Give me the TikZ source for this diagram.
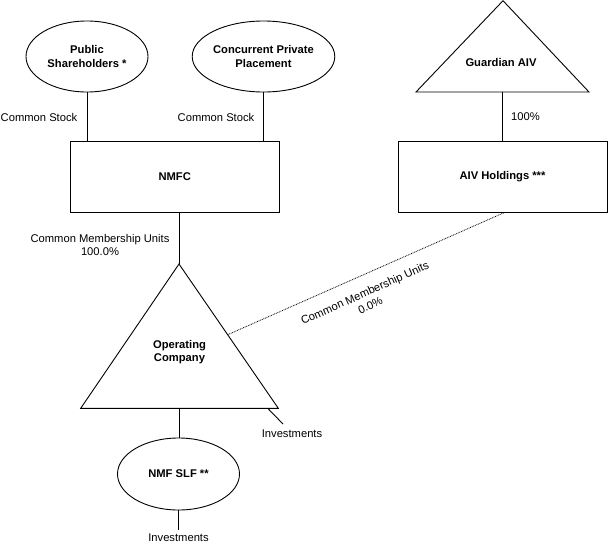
\documentclass[tikz,border=0pt]{standalone}
\usepackage{fontspec}
\setmainfont{Liberation Sans}
\usetikzlibrary{shapes.geometric,calc}
\begin{document}
\begin{tikzpicture}[x=1pt,y=-1pt,
  every node/.style={font=\fontsize{11.2}{13.5}\selectfont, align=center, inner sep=0pt},
  boldtext/.style={font=\fontsize{11.2}{13.5}\selectfont\bfseries},
  ent/.style={draw, line width=0.9pt, boldtext},
  oval/.style={ent, ellipse, minimum width=122pt, minimum height=71pt},
  boxnode/.style={ent, rectangle, minimum width=208.5pt, minimum height=71pt},
  link/.style={draw, line width=0.9pt},
  dotlink/.style={draw, line width=0.8pt, dash pattern=on 0.8pt off 0.9pt}]
\useasboundingbox (0,0) rectangle (608,544);

% entities
\node[oval] (pub) at (87,56.5) {Public\\Shareholders *};
\node[oval, minimum width=123pt] (conc) at (263.5,56.5) {Concurrent Private\\Placement};
\node[boxnode] (nmfc) at (174.75,176.5) {NMFC};

\coordinate (gA) at (503,0.7);
\coordinate (gL) at (416,92);
\coordinate (gR) at (589,92);
\draw[link, line join=miter] (gA) -- (gL) -- (gR) -- cycle;
\node[boldtext] (guard) at (501,62) {Guardian AIV};
\coordinate (gB) at ($(gL)!0.5!(gR)$);

\node[boxnode, minimum width=209pt] (aiv) at (502.5,176.5) {AIV Holdings ***};

\coordinate (oA) at (179,264);
\coordinate (oL) at (80.7,408.3);
\coordinate (oR) at (278.3,408.3);
\draw[link, line join=miter] (oA) -- (oL) -- (oR) -- cycle;
\node[boldtext] (opc) at (179.5,352) {Operating\\Company};

\node[oval, minimum height=72pt] (slf) at (178.5,474) {NMF SLF **};

% connectors
\draw[link] (pub.south) -- (pub.south |- nmfc.north);
\draw[link] (conc.south) -- (conc.south |- nmfc.north);
\draw[link] (oA |- nmfc.south) -- (oA);
\draw[link] (gB) -- (gB |- aiv.north);
\draw[link] (oA |- oL) -- (oA |- slf.north);
\coordinate (slfend) at (178.5,529.5);
\draw[link] (slf.south) -- (slfend);

\coordinate (dS) at ($(oA)!0.49!(oR)$);
\coordinate (dE) at ($(aiv.south west)!0.51!(aiv.south east)$);
\draw[dotlink] (dS) -- (dE);

\coordinate (tA) at ($(oR)+(-10,0.6)$);
\coordinate (tB) at (283,424);
\draw[line width=0.9pt] (tA) -- (tB);

% labels
\node (cs1) at (39,117) {Common Stock};
\node (cs2) at (216,117) {Common Stock};
\node (pct) at (525.5,117) {100\%};
\node (cmu1) at (100,245) {Common Membership Units\\100.0\%};
\node[rotate=24.2] (cmu2) at (367.5,299) {Common Membership Units\\0.0\%};
\node (inv1) at (292,434) {Investments};
\node (inv2) at (178.5,537.5) {Investments};
\end{tikzpicture}
\end{document}
